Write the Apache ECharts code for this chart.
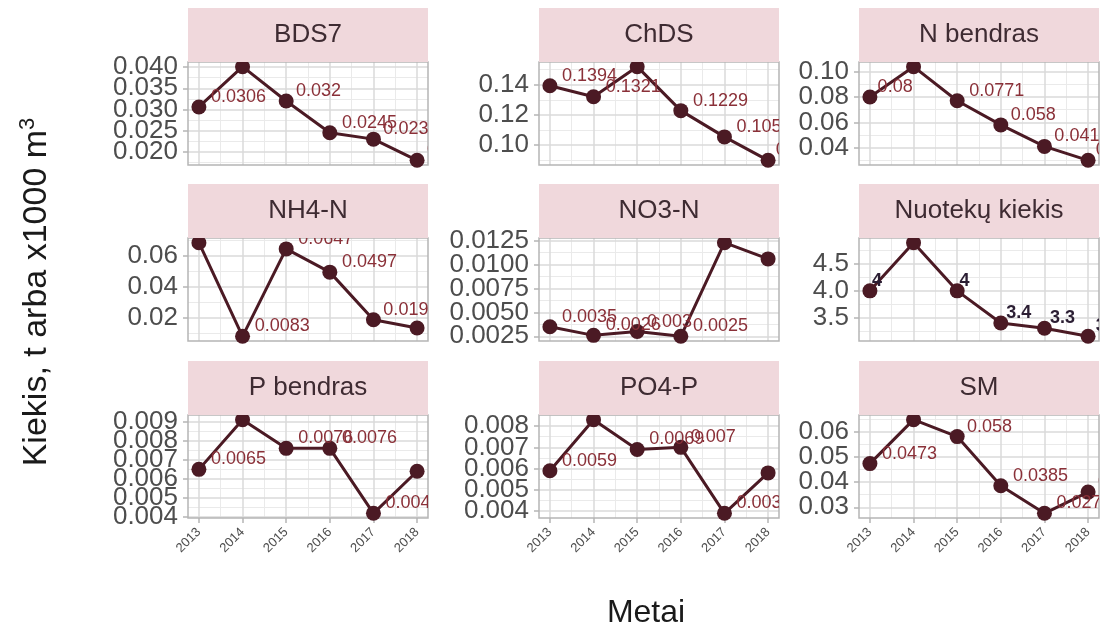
<!DOCTYPE html>
<html>
<head>
<meta charset="utf-8">
<script src="https://cdn.jsdelivr.net/npm/echarts@6/dist/echarts.min.js"></script>
<style>
  html, body { margin: 0; padding: 0; background: #ffffff; }
  #chart { width: 1105px; height: 629px; }
</style>
</head>
<body>
<div id="chart"></div>
<script>
// Years on the shared x axis
const years = [2013, 2014, 2015, 2016, 2017, 2018];

// Facet titles
const panelNames = ['BDS7', 'ChDS', 'N bendras', 'NH4-N', 'NO3-N', 'Nuotekų kiekis', 'P bendras', 'PO4-P', 'SM'];

// Yearly values for each indicator
const bds7     = [0.0306, 0.0401, 0.032, 0.0245, 0.023, 0.018];
const chds     = [0.1394, 0.1321, 0.152, 0.1229, 0.1055, 0.09];
const nBendras = [0.08, 0.104, 0.0771, 0.058, 0.041, 0.03];
const nh4n     = [0.0687, 0.0083, 0.0647, 0.0497, 0.019, 0.0137];
const no3n     = [0.0035, 0.0026, 0.003, 0.0025, 0.0123, 0.0106];
const nuotekos = [4, 4.9, 4, 3.4, 3.3, 3.15];
const pBendras = [0.0065, 0.0091, 0.0076, 0.0076, 0.0042, 0.0064];
const po4p     = [0.0059, 0.0083, 0.0069, 0.007, 0.0039, 0.0058];
const sm       = [0.0473, 0.0647, 0.058, 0.0385, 0.0276, 0.036];

// Y tick labels for each indicator (free scales)
const bds7Ticks     = ['0.020', '0.025', '0.030', '0.035', '0.040'];
const chdsTicks     = ['0.10', '0.12', '0.14'];
const nBendrasTicks = ['0.04', '0.06', '0.08', '0.10'];
const nh4nTicks     = ['0.02', '0.04', '0.06'];
const no3nTicks     = ['0.0025', '0.0050', '0.0075', '0.0100', '0.0125'];
const nuotekosTicks = ['3.5', '4.0', '4.5'];
const pBendrasTicks = ['0.004', '0.005', '0.006', '0.007', '0.008', '0.009'];
const po4pTicks     = ['0.004', '0.005', '0.006', '0.007', '0.008'];
const smTicks       = ['0.03', '0.04', '0.05', '0.06'];

const seriesValues = [bds7, chds, nBendras, nh4n, no3n, nuotekos, pBendras, po4p, sm];
const seriesTicks  = [bds7Ticks, chdsTicks, nBendrasTicks, nh4nTicks, no3nTicks, nuotekosTicks, pBendrasTicks, po4pTicks, smTicks];

// ---- styling / layout ----
const FONT = '"Liberation Sans", Arial, Helvetica, sans-serif';
const LINE_COLOR = '#4B1A24';
const LABEL_COLOR = '#8A3038';
const STRIP_FILL = '#F0D8DC';
const STRIP_TEXT = '#3E2B32';
const MAJOR_GRID = '#DADADA';
const MINOR_GRID = '#EAEAEA';
const BORDER = '#B5B5B5';
const TICK_TEXT = '#4D4D4D';

const colLeft = [188, 539, 859];
const rowTop = [62, 238, 415];
const PANEL_W = 240;
const PANEL_H = 103;
const STRIP_H = 54;

const X_MIN = 2012.75, X_MAX = 2018.25;
const xMinor = [2013.5, 2014.5, 2015.5, 2016.5, 2017.5];

const measureCtx = document.createElement('canvas').getContext('2d');
function textWidth(str, size, weight) {
  measureCtx.font = (weight || 'normal') + ' ' + size + 'px ' + FONT;
  return measureCtx.measureText(str).width;
}

function minorBreaks(majors, lo, hi) {
  const step = majors[1] - majors[0];
  const out = [];
  for (let v = majors[0] - step / 2; v <= majors[majors.length - 1] + step; v += step) {
    if (v >= lo && v <= hi) out.push(+v.toFixed(8));
  }
  return out;
}

const grids = [], xAxes = [], yAxes = [], series = [], graphics = [];

panelNames.forEach((name, i) => {
  const r = Math.floor(i / 3), c = i % 3;
  const left = colLeft[c], top = rowTop[r];
  const vals = seriesValues[i];
  const tickStr = seriesTicks[i];
  const tickVal = tickStr.map(parseFloat);
  const vMin = Math.min(...vals), vMax = Math.max(...vals);
  const pad = (vMax - vMin) * 0.05;
  const lo = vMin - pad, hi = vMax + pad;
  const minors = minorBreaks(tickVal, lo, hi);
  const bottomRow = r === 2;
  const boldLabels = name === 'Nuotekų kiekis';

  grids.push({
    left: left, top: top, width: PANEL_W, height: PANEL_H,
    show: true, borderColor: BORDER, borderWidth: 1.5,
    backgroundColor: 'transparent', z: 2
  });

  // major x axis
  const xIndex = xAxes.length;
  xAxes.push({
    type: 'value', gridIndex: i, min: X_MIN, max: X_MAX, z: 1,
    axisLine: { show: false },
    axisTick: { show: bottomRow, customValues: years, length: 5, lineStyle: { color: BORDER, width: 1.5 } },
    axisLabel: {
      show: bottomRow, customValues: years, rotate: 45, margin: 12,
      padding: [18, 0, 0, 0],
      fontSize: 13, fontFamily: FONT, color: TICK_TEXT,
      formatter: v => String(Math.round(v))
    },
    splitLine: { show: true, lineStyle: { color: MAJOR_GRID, width: 1.5 } }
  });
  // minor x axis (grid lines only)
  xAxes.push({
    type: 'value', gridIndex: i, min: X_MIN, max: X_MAX, z: 0,
    axisLine: { show: false },
    axisTick: { show: false, customValues: xMinor },
    axisLabel: { show: false },
    splitLine: { show: true, lineStyle: { color: MINOR_GRID, width: 1 } }
  });

  // major y axis: grid lines
  const yIndex = yAxes.length;
  yAxes.push({
    type: 'value', gridIndex: i, min: lo, max: hi, position: 'left', z: 1,
    axisLine: { show: false },
    axisTick: { show: false, customValues: tickVal },
    axisLabel: { show: false },
    splitLine: { show: true, lineStyle: { color: MAJOR_GRID, width: 1.5 } }
  });
  // minor y axis: grid lines
  yAxes.push({
    type: 'value', gridIndex: i, min: lo, max: hi, position: 'left', z: 0,
    axisLine: { show: false },
    axisTick: { show: false, customValues: minors },
    axisLabel: { show: false },
    splitLine: { show: true, lineStyle: { color: MINOR_GRID, width: 1 } }
  });
  // one label axis per tick, so crowded labels are all kept
  tickVal.forEach((t, k) => {
    yAxes.push({
      type: 'value', gridIndex: i, min: lo, max: hi, position: 'left', offset: 0, z: 1,
      axisLine: { show: false },
      axisTick: { show: true, customValues: [t], length: 5, lineStyle: { color: BORDER, width: 1.5 } },
      axisLabel: {
        show: true, customValues: [t], margin: 10,
        fontSize: 26, fontFamily: FONT, color: TICK_TEXT,
        formatter: () => tickStr[k]
      },
      splitLine: { show: false }
    });
  });

  const pts = years.map((y, k) => [y, vals[k]]);

  series.push({
    type: 'line', name: name, xAxisIndex: xIndex, yAxisIndex: yIndex,
    data: pts, clip: true, z: 3, animation: false, silent: true,
    symbol: 'circle', symbolSize: 15,
    lineStyle: { color: LINE_COLOR, width: 3 },
    itemStyle: { color: LINE_COLOR }
  });

  // value labels, clipped to the panel
  series.push({
    type: 'custom', name: name + ' labels', xAxisIndex: xIndex, yAxisIndex: yIndex,
    data: pts, clip: true, z: 4, animation: false, silent: true,
    encode: { x: 0, y: 1 },
    renderItem: (params, api) => {
      const v = api.value(1);
      const p = api.coord([api.value(0), v]);
      const txt = String(v);
      const w = textWidth(txt, 18, boldLabels ? 'bold' : 'normal');
      return {
        type: 'text',
        x: p[0] + 0.22 * w,
        y: p[1] - 10,
        style: {
          text: txt, fontSize: 18, fontFamily: FONT,
          fontWeight: boldLabels ? 'bold' : 'normal',
          fill: boldLabels ? '#2B1E33' : LABEL_COLOR,
          align: 'left', verticalAlign: 'middle'
        }
      };
    }
  });

  // facet strip
  graphics.push({
    type: 'rect', z: 20, silent: true,
    shape: { x: left, y: top - STRIP_H, width: PANEL_W, height: STRIP_H },
    style: { fill: STRIP_FILL }
  });
  graphics.push({
    type: 'text', z: 21, silent: true,
    x: left + PANEL_W / 2, y: top - STRIP_H / 2,
    style: { text: name, fontSize: 26, fontFamily: FONT, fill: STRIP_TEXT, align: 'center', verticalAlign: 'middle' }
  });
});

// axis titles
graphics.push({
  type: 'text', z: 21, silent: true,
  x: 37, y: 292, rotation: Math.PI / 2,
  style: {
    text: 'Kiekis, t arba x1000 m{sup|3}',
    fontSize: 34, lineHeight: 40, fontFamily: FONT, fill: '#1A1A1A',
    align: 'center', verticalAlign: 'middle',
    rich: { sup: { fontSize: 22, lineHeight: 22, verticalAlign: 'top', fontFamily: FONT, fill: '#1A1A1A' } }
  }
});
graphics.push({
  type: 'text', z: 21, silent: true,
  x: 646, y: 613,
  style: { text: 'Metai', fontSize: 32, fontFamily: FONT, fill: '#1A1A1A', align: 'center', verticalAlign: 'middle' }
});

const chart = echarts.init(document.getElementById('chart'), null, { renderer: 'canvas' });
chart.setOption({
  animation: false,
  backgroundColor: '#ffffff',
  grid: grids,
  xAxis: xAxes,
  yAxis: yAxes,
  series: series,
  graphic: { elements: graphics }
});
</script>
</body>
</html>
